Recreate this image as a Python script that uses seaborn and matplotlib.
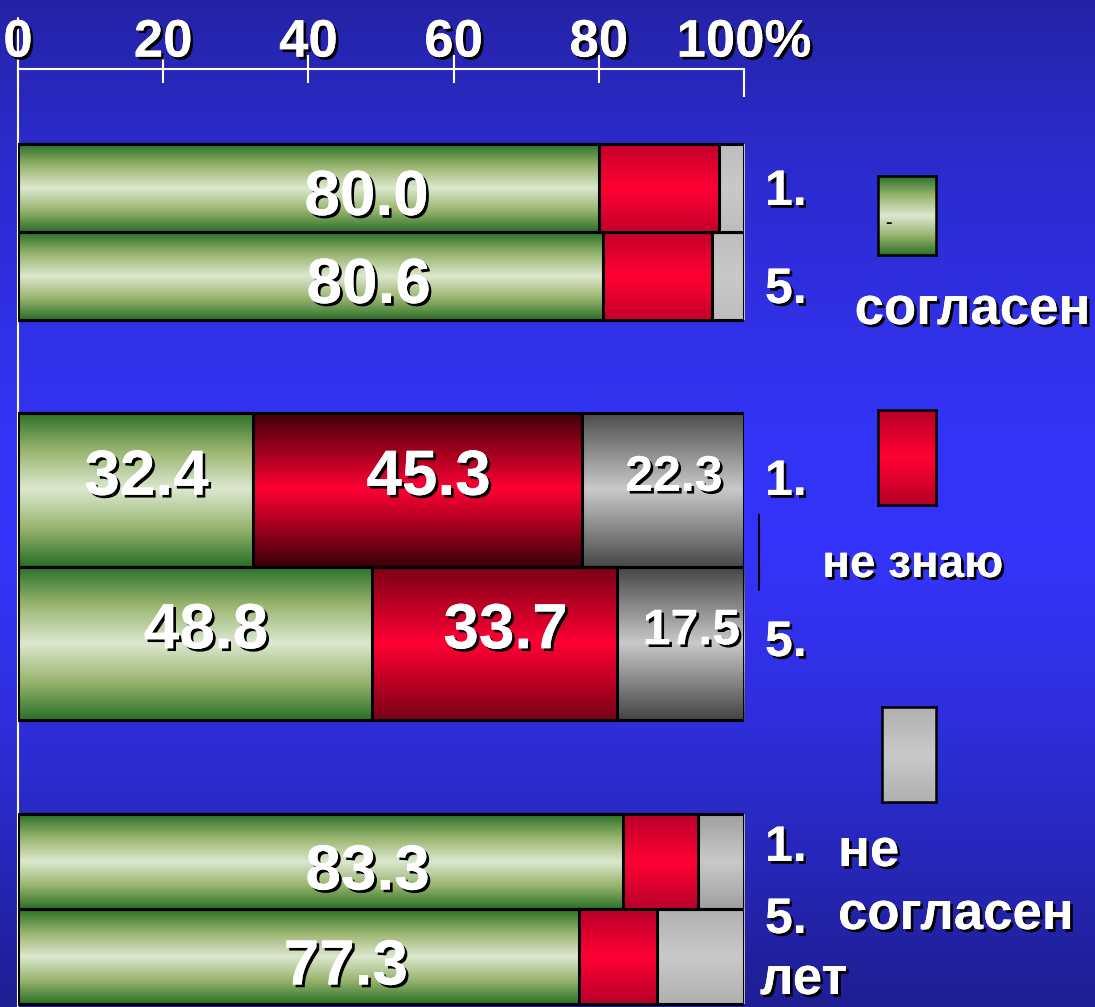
import numpy as np
import pandas as pd
import matplotlib
matplotlib.use("Agg")
import matplotlib.pyplot as plt
import matplotlib.patheffects as pe
import matplotlib.lines as mlines
from matplotlib.colors import LinearSegmentedColormap
from matplotlib.lines import Line2D
import seaborn as sns

# --- data (percent) ---
ROW_IDS = ["q1_1", "q1_5", "q2_1", "q2_5", "q3_1", "q3_5"]
ROW_TAGS = ["1.", "5.", "1.", "5.", "1.", "5."]
AGREE = [80.0, 80.6, 32.4, 48.8, 83.3, 77.3]
DONT_KNOW = [16.6, 15.0, 45.3, 33.7, 10.4, 10.7]
DISAGREE = [3.4, 4.4, 22.3, 17.5, 6.3, 12.0]
LEGEND_LABELS = ["согласен", "не знаю", "не\nсогласен"]
TICKS = [0, 20, 40, 60, 80, 100]
TICK_LABELS = ["0", "20", "40", "60", "80", "100%"]

# --- layout / style ---
W, H = 1095, 1007
AX_TOP = 69
GROUP_TOP = [75, 344, 745]
GROUP_BAR_H = [88, 153.5, 95]
LABEL_SHIFT = [8, 1.5, 6.5]      # x shift of value labels per group
LABEL_DY = [10, -12, 11]
TAG_Y = [192, 290, 482, 643, 848, 920]

GREEN = ["#2a7028", "#99b56f", "#dce8cf", "#99b56f", "#2a7028"]
RED_EDGE = ["#c4002a", "#c4002a", "#3d0008", "#780016", "#b8002a", "#b8002a"]
GRAY_EDGE = ["#bdbdbd", "#bdbdbd", "#4a4a4a", "#444444", "#a0a0a0", "#b0b0b0"]
RED_MID = "#ff0033"
GRAY_MID = "#c9c9c9"

sns.set_theme(style="white")
plt.rcParams["font.family"] = ["Liberation Sans", "DejaVu Sans"]
plt.rcParams["font.weight"] = "bold"

SHADOW = [pe.withSimplePatchShadow(offset=(2, -2), shadow_rgbFace="black", alpha=1.0), pe.Normal()]


def grad(colors, n=256):
    cmap = LinearSegmentedColormap.from_list("g", colors)
    return cmap(np.linspace(0, 1, n))[:, None, :]


def fill_patch(ax, patch, colors, z):
    x0, y0 = patch.get_x(), patch.get_y()
    w, h = patch.get_width(), patch.get_height()
    im = ax.imshow(grad(colors), extent=(x0, x0 + w, y0 + h, y0), aspect="auto",
                   interpolation="bilinear", zorder=z)
    im.set_clip_path(patch)
    patch.set_facecolor("none")
    patch.set_zorder(z + 0.05)


def ftext(x, y, s, **kw):
    kw.setdefault("color", "white")
    kw.setdefault("fontweight", "bold")
    t = fig.text(x / W, 1 - y / H, s, **kw)
    t.set_path_effects(SHADOW)
    return t


fig = plt.figure(figsize=(W / 100, H / 100), dpi=100)

# background gradient
bg = fig.add_axes([0, 0, 1, 1], zorder=-10)
bg_cmap = LinearSegmentedColormap.from_list(
    "bg", [(0, "#2423a6"), (0.13, "#2a2ac8"), (0.42, "#3333f5"), (0.55, "#3434fa"),
           (0.7, "#2f2fe0"), (0.86, "#2626b8"), (1.0, "#1e1e92")])
bg.imshow(bg_cmap(np.linspace(0, 1, 512))[:, None, :], aspect="auto", extent=(0, 1, 0, 1))
bg.axis("off")

ax = fig.add_axes([18 / W, 0, 726 / W, (H - AX_TOP) / H])
ax.set_facecolor("none")

df = pd.DataFrame({"row": ROW_IDS, "agree": AGREE, "dk": DONT_KNOW, "dis": DISAGREE})
df["cum_dk"] = df["agree"] + df["dk"]
df["cum_all"] = df["cum_dk"] + df["dis"]

# row geometry from group layout
row_top, row_h = [], []
for g in range(3):
    for k in range(2):
        row_top.append(GROUP_TOP[g] + k * GROUP_BAR_H[g])
        row_h.append(GROUP_BAR_H[g])

layers = [("cum_all", "gray"), ("cum_dk", "red"), ("agree", "green")]
z = 1
for col, kind in layers:
    n0 = len(ax.patches)
    sns.barplot(data=df, x=col, y="row", orient="h", errorbar=None, color="white",
                edgecolor="black", linewidth=2.2, ax=ax)
    for i, p in enumerate(ax.patches[n0:]):
        p.set_y(row_top[i])
        p.set_height(row_h[i])
        if kind == "green":
            cols = GREEN
        elif kind == "red":
            cols = [RED_EDGE[i], RED_MID, RED_EDGE[i]]
        else:
            cols = [GRAY_EDGE[i], GRAY_MID, GRAY_EDGE[i]]
        fill_patch(ax, p, cols, z)
    z += 1

# value labels
for i in range(len(ROW_IDS)):
    g = i // 2
    start = 0
    for v in (AGREE[i], DONT_KNOW[i], DISAGREE[i]):
        if v >= 17:
            ax.text(start + v / 2 + LABEL_SHIFT[g], row_top[i] + row_h[i] / 2 + LABEL_DY[g],
                    f"{v:.1f}", ha="center", va="center", color="white", fontweight="bold",
                    fontsize=46 if v >= 30 else 36, zorder=10, path_effects=SHADOW)
        start += v

# axis styling
ax.set_xlim(0, 100)
ax.set_ylim(H - AX_TOP, 0)
ax.set_ylabel("")
ax.set_xlabel("")
ax.set_yticks([])
ax.xaxis.tick_top()
ax.set_xticks(TICKS)
ax.set_xticklabels(TICK_LABELS)
ax.tick_params(axis="x", direction="inout", length=20, width=1.5, color="white",
               pad=-9, labelsize=38, labelcolor="white")
for t in ax.get_xticklabels():
    t.set_fontweight("bold")
    t.set_path_effects(SHADOW)
# the 100% tick only hangs below the axis line
last = ax.xaxis.get_major_ticks()[-1]
last.tick2line.set_marker(mlines.TICKDOWN)
last.tick2line.set_markersize(20)
for s in ["right", "bottom", "left"]:
    ax.spines[s].set_visible(False)
ax.spines["top"].set_color("white")
ax.spines["top"].set_linewidth(1.5)
ax.plot([0, 0], [-51, H - AX_TOP], color="white", lw=1.5, clip_on=False, zorder=0.5)

# row tags on the right
for tag, ty in zip(ROW_TAGS, TAG_Y):
    ftext(765, ty, tag, fontsize=36, ha="left", va="center")
ftext(760, 980, "лет", fontsize=38, ha="left", va="center")

# legend swatches
swatches = [
    ((878, 176, 58, 79), GREEN),
    ((878, 410, 58, 95), ["#b80025", RED_MID, "#b80025"]),
    ((882, 707, 54, 95), ["#b0b0b0", GRAY_MID, "#b0b0b0"]),
]
for (x, y, w, h), cols in swatches:
    la = fig.add_axes([x / W, 1 - (y + h) / H, w / W, h / H])
    la.imshow(grad(cols), aspect="auto", extent=(0, 1, 0, 1))
    la.set_xticks([])
    la.set_yticks([])
    for sp in la.spines.values():
        sp.set_color("black")
        sp.set_linewidth(1.8)
fig.text(885 / W, 1 - 224 / H, "-", color="black", fontsize=14, fontweight="bold", va="center")

ftext(972, 310, LEGEND_LABELS[0], fontsize=38, ha="center", va="center")
ftext(913, 565, LEGEND_LABELS[1], fontsize=33, ha="center", va="center")
ne, sogl = LEGEND_LABELS[2].split("\n")
ftext(838, 852, ne, fontsize=38, ha="left", va="center")
ftext(838, 915, sogl, fontsize=38, ha="left", va="center")

fig.add_artist(Line2D([759 / W, 759 / W], [1 - 515 / H, 1 - 590 / H], color="black", lw=1.5))

fig.savefig("out.png", dpi=100)
